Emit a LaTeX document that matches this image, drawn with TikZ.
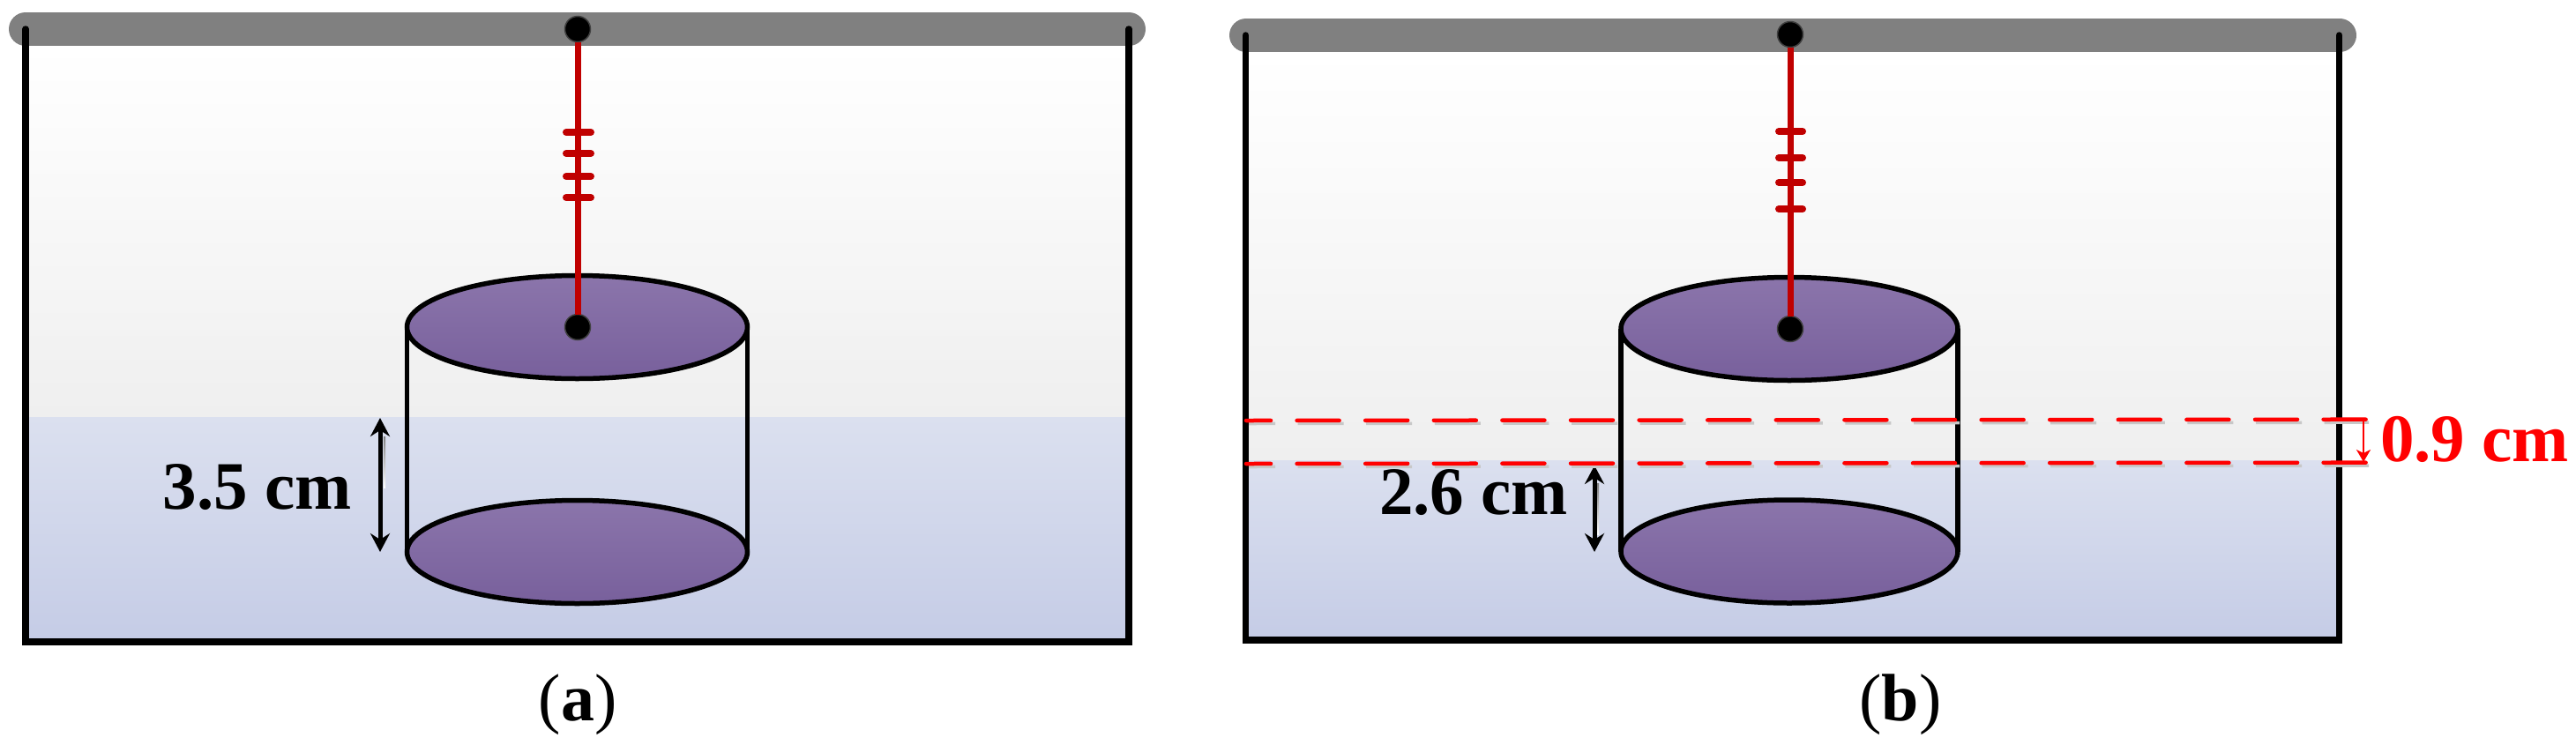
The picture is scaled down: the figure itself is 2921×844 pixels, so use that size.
\documentclass[tikz,border=0pt]{standalone}
\usepackage{fontspec}
\setmainfont{Liberation Serif}
\usetikzlibrary{arrows.meta,shapes.geometric}
\definecolor{barGray}{HTML}{808080}
\definecolor{ropeRed}{HTML}{C00000}
\definecolor{pinEdge}{HTML}{404040}
\definecolor{discTop}{HTML}{8B75AB}
\definecolor{discBot}{HTML}{78609C}
\definecolor{airBot}{HTML}{EFEFEF}
\definecolor{waterTop}{HTML}{DBE0EF}
\definecolor{waterBot}{HTML}{C5CCE6}
\definecolor{shade}{HTML}{C8C8C8}
\tikzset{
  x=1pt,y=-1pt,
  wall/.style={line width=7.5pt,line cap=round,line join=miter},
  barline/.style={line width=38pt,color=barGray,line cap=round},
  rope/.style={line width=7pt,color=ropeRed},
  tickmark/.style={line width=8pt,color=ropeRed,line cap=round},
  pin/.style={circle,fill=black,draw=pinEdge,line width=1.5pt,minimum size=29pt,inner sep=0pt,outer sep=0pt},
  sideline/.style={line width=5.5pt},
  disc/.style={ellipse,line width=5.5pt,draw=black,top color=discTop,bottom color=discBot,inner sep=0pt},
  dim/.style={line width=5pt,{Stealth[length=21pt,width=22pt,inset=7pt]}-{Stealth[length=21pt,width=22pt,inset=7pt]}},
  dimred/.style={line width=2.5pt,color=red,-{Stealth[length=14pt,width=16pt,inset=4pt]}},
  lab/.style={font=\fontsize{77}{77}\selectfont\bfseries,inner sep=0pt,anchor=base east},
  captext/.style={font=\fontsize{76}{76}\selectfont,inner sep=0pt,anchor=base},
  reddash/.style={line width=4.5pt,color=red,line cap=round,dash pattern=on 48pt off 29.6pt,dash phase=20pt},
  greydash/.style={line width=3.5pt,color=shade,dash pattern=on 52pt off 25.6pt,dash phase=22pt},
}
\begin{document}
\begin{tikzpicture}
\useasboundingbox (0,0) rectangle (2921,844);
% ---------- panel a ----------
\fill[top color=white,bottom color=airBot] (29,52) rectangle (1280,473);
\fill[top color=waterTop,bottom color=waterBot] (29,473) rectangle (1280,726);
\draw[barline] (29,33) -- (1280,33);
\draw[wall] (29,33) -- (29,728) -- (1280,728) -- (1280,33);
\draw[sideline] (461.5,371) -- (461.5,626) (847.5,371) -- (847.5,626);
\node[disc,minimum width=386pt,minimum height=117pt] (topA) at (654.5,371) {};
\node[disc,minimum width=386pt,minimum height=117pt] (botA) at (654.5,626) {};
\node[pin] (pinA1) at (655,33) {};
\node[pin] (pinA2) at (655,371) {};
\draw[rope] (pinA1) -- (pinA2);
\foreach \yy in {150,174,200,224} \draw[tickmark] (642,\yy) -- (670,\yy);
\coordinate (dimAt) at (431,474);
\coordinate (dimAb) at (431,626);
\fill[shade] (435,495) rectangle (437,553);
\draw[dim] (dimAt) -- (dimAb);
\node[lab] (labA) at (399,577) {3.5 cm};
\node[captext] (capA) at (655,817) {(\textbf{a})};
% ---------- panel b ----------
\fill[top color=white,bottom color=airBot] (1412,59) rectangle (2653,522);
\fill[top color=waterTop,bottom color=waterBot] (1412,522) rectangle (2653,724);
\draw[barline] (1413,40) -- (2653,40);
\draw[wall] (1412.5,40) -- (1412.5,726) -- (2652.5,726) -- (2652.5,40);
\draw[sideline] (1838,373) -- (1838,626) (2220,373) -- (2220,626);
\node[disc,minimum width=382pt,minimum height=117pt] (topB) at (2029,373) {};
\node[disc,minimum width=382pt,minimum height=117pt] (botB) at (2029,625.5) {};
\node[pin] (pinB1) at (2030,39) {};
\node[pin] (pinB2) at (2030,373) {};
\draw[rope] (pinB1) -- (pinB2);
\foreach \yy in {149,179,207,237} \draw[tickmark] (2017,\yy) -- (2044,\yy);
\coordinate (dimBt) at (1808,528);
\coordinate (dimBb) at (1808,626);
\fill[shade] (1811,548) rectangle (1813,606);
\draw[dim] (dimBt) -- (dimBb);
\coordinate (upL) at (1413,477);
\coordinate (upR) at (2683,475.7);
\coordinate (loL) at (1413,526);
\coordinate (loR) at (2683,524.7);
\draw[greydash] ([shift={(3,3.5)}]upL) -- ([shift={(3,3.5)}]upR);
\draw[greydash] ([shift={(3,3.5)}]loL) -- ([shift={(3,3.5)}]loR);
\draw[reddash] (upL) -- (upR);
\draw[reddash] (loL) -- (loR);
\coordinate (dimRt) at (2680,476);
\coordinate (dimRb) at (2680,524);
\draw[dimred] (dimRt) -- (dimRb);
\node[lab] (labB) at (1778,583) {2.6 cm};
\node[lab,text=red] (labC) at (2913,523) {0.9 cm};
\node[captext] (capB) at (2155,817) {(\textbf{b})};
\end{tikzpicture}
\end{document}
